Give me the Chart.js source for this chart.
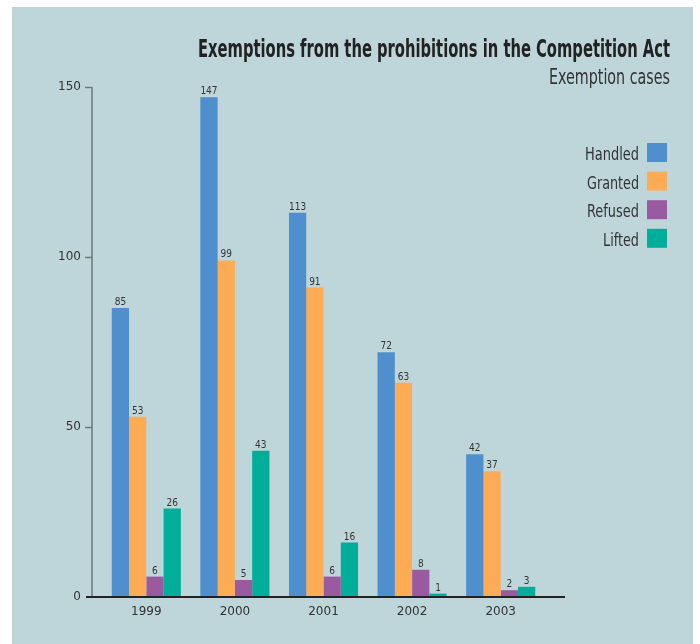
<!DOCTYPE html>
<html>
<head>
<meta charset="utf-8">
<script src="https://cdn.jsdelivr.net/npm/chart.js@4/dist/chart.umd.min.js"></script>
<style>
  html, body { margin: 0; padding: 0; background: #fff; }
  canvas { display: block; }
</style>
</head>
<body>
<canvas id="chart" width="700" height="644"></canvas>
<script>
const years = ["1999", "2000", "2001", "2002", "2003"];
const handled = [85, 147, 113, 72, 42];
const granted = [53, 99, 91, 63, 37];
const refused = [6, 5, 6, 8, 2];
const lifted = [26, 43, 16, 1, 3];
const yTicks = [0, 50, 100, 150];

const seriesNames = ["Handled", "Granted", "Refused", "Lifted"];
const seriesColors = ["#4f8fcd", "#fdab55", "#9a5aa0", "#00ae9a"];
// larghezza delle voci di legenda nel riferimento
const legendWidths = [54, 52, 52, 36];

const titleText = "Exemptions from the prohibitions in the Competition Act";
const subtitleText = "Exemption cases";

// disegna sfondo, assi, etichette dei valori, titolo e legenda
const decorPlugin = {
  id: "decor",
  beforeDraw(chart) {
    const ctx = chart.ctx;
    ctx.save();
    ctx.fillStyle = "#ffffff";
    ctx.fillRect(0, 0, chart.width, chart.height);
    ctx.fillStyle = "#bed6da";
    ctx.fillRect(12, 7, 681, 637);
    ctx.restore();
  },
  afterDatasetsDraw(chart) {
    const ctx = chart.ctx;
    const ys = chart.scales.y;
    const y0 = ys.getPixelForValue(0);
    const yTop = ys.getPixelForValue(150);
    ctx.save();

    // asse y
    ctx.strokeStyle = "#6e777a";
    ctx.lineWidth = 1.5;
    ctx.beginPath();
    ctx.moveTo(92, yTop);
    ctx.lineTo(92, y0);
    yTicks.forEach(v => {
      if (v === 0) return;
      const p = Math.round(ys.getPixelForValue(v)) + 0.5;
      ctx.moveTo(85, p);
      ctx.lineTo(92, p);
    });
    ctx.stroke();

    // asse x
    ctx.strokeStyle = "#222222";
    ctx.lineWidth = 2;
    ctx.beginPath();
    ctx.moveTo(86, y0);
    ctx.lineTo(565, y0);
    ctx.stroke();

    // valori sopra le barre
    ctx.fillStyle = "#333333";
    ctx.font = "10px 'DejaVu Sans Condensed', 'DejaVu Sans'";
    ctx.textAlign = "center";
    ctx.textBaseline = "alphabetic";
    chart.data.datasets.forEach((ds, i) => {
      const meta = chart.getDatasetMeta(i);
      meta.data.forEach((bar, j) => {
        ctx.fillText(String(ds.data[j]), bar.x, bar.y - 3);
      });
    });

    // titolo
    ctx.textAlign = "right";
    ctx.fillStyle = "#222222";
    ctx.font = "bold 25px 'DejaVu Sans Condensed', 'DejaVu Sans'";
    ctx.fillText(titleText, 670, 57, 472);
    ctx.fillStyle = "#333333";
    ctx.font = "21px 'DejaVu Sans Condensed', 'DejaVu Sans'";
    ctx.fillText(subtitleText, 670, 84, 121);

    // legenda
    ctx.font = "18px 'DejaVu Sans Condensed', 'DejaVu Sans'";
    seriesNames.forEach((name, i) => {
      const top = 143 + i * 28.6;
      ctx.fillStyle = seriesColors[i];
      ctx.fillRect(647, top, 20, 19);
      ctx.fillStyle = "#333333";
      ctx.fillText(name, 639, top + 17, legendWidths[i]);
    });

    ctx.restore();
  }
};

const datasets = [handled, granted, refused, lifted].map((values, i) => ({
  label: seriesNames[i],
  data: values,
  backgroundColor: seriesColors[i],
  borderWidth: 0,
  categoryPercentage: 0.78,
  barPercentage: 1.0
}));

new Chart(document.getElementById("chart"), {
  type: "bar",
  data: { labels: years, datasets: datasets },
  options: {
    responsive: false,
    animation: false,
    layout: { padding: { top: 87, right: 155, bottom: 0, left: 0 } },
    plugins: {
      legend: { display: false },
      title: { display: false },
      tooltip: { enabled: false }
    },
    scales: {
      x: {
        grid: { display: false, drawTicks: false },
        border: { display: false },
        ticks: {
          color: "#333333",
          font: { family: "'DejaVu Sans'", size: 12 },
          padding: 8,
          maxRotation: 0
        },
        afterFit: s => { s.height = 47; }
      },
      y: {
        min: 0,
        max: 150,
        grid: { display: false, drawTicks: false },
        border: { display: false },
        ticks: {
          stepSize: 50,
          color: "#333333",
          font: { family: "'DejaVu Sans'", size: 12 },
          padding: 21
        },
        afterFit: s => { s.width = 102; }
      }
    }
  },
  plugins: [decorPlugin]
});
</script>
</body>
</html>
